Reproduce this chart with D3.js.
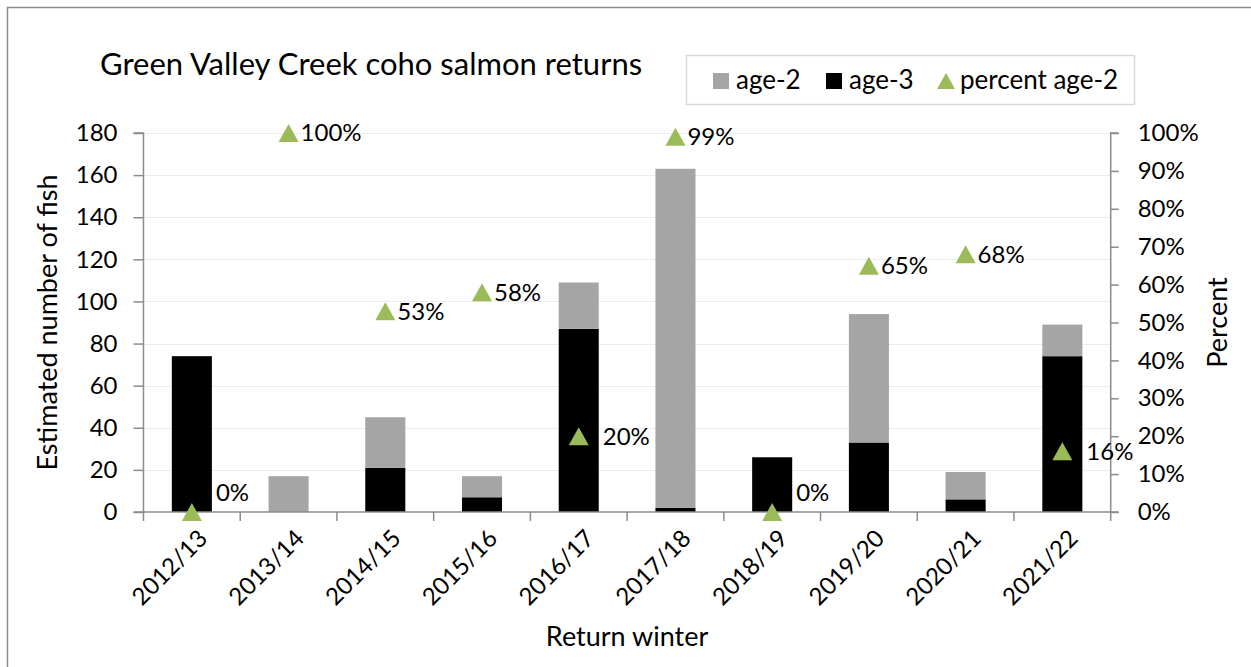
<!DOCTYPE html>
<html>
<head>
<meta charset="utf-8">
<script src="https://cdn.jsdelivr.net/npm/d3@7"></script>
<style>
  html, body { margin: 0; padding: 0; background: #fff; }
  svg { display: block; font-family: Lato, "Open Sans", sans-serif; }
</style>
</head>
<body>
<svg id="chart" width="1251" height="667"></svg>
<script>
const categories = ["2012/13","2013/14","2014/15","2015/16","2016/17","2017/18","2018/19","2019/20","2020/21","2021/22"];
const age2 = [0, 17, 24, 10, 22, 161, 0, 61, 13, 15];
const age3 = [74, 0, 21, 7, 87, 2, 26, 33, 6, 74];
const percentAge2 = [0, 100, 53, 58, 20, 99, 0, 65, 68, 16];
const leftTicks = [0, 20, 40, 60, 80, 100, 120, 140, 160, 180];
const rightTicks = [0, 10, 20, 30, 40, 50, 60, 70, 80, 90, 100];

const svg = d3.select("#chart");
const plot = { left: 143.5, right: 1110.7, top: 133, bottom: 512 };
const axisColor = "#8c8c8c";
const gridColor = "#ececec";
const fsNum = 24;   // numeric text
const fsWord = 27;  // word text

// outer border
svg.append("rect").attr("x", 7.5).attr("y", 7.5).attr("width", 1270).attr("height", 700)
  .attr("fill", "#fff").attr("stroke", "#8c8c8c").attr("stroke-width", 1.5);

const x = d3.scaleBand().domain(categories).range([plot.left, plot.right]).paddingInner(0.586).paddingOuter(0.293);
const xb = d3.scaleBand().domain(categories).range([plot.left, plot.right]);
const y = d3.scaleLinear().domain([0, 180]).range([plot.bottom, plot.top]);
const y2 = d3.scaleLinear().domain([0, 100]).range([plot.bottom, plot.top]);

// gridlines
svg.append("g").selectAll("line").data(leftTicks.filter(d => d > 0)).join("line")
  .attr("x1", plot.left).attr("x2", plot.right)
  .attr("y1", d => Math.round(y(d)) + 0.5).attr("y2", d => Math.round(y(d)) + 0.5)
  .attr("stroke", gridColor).attr("stroke-width", 1.2);

// stacked bars
const rows = categories.map((c, i) => ({ cat: c, age3: age3[i], age2: age2[i] }));
const stack = d3.stack().keys(["age3", "age2"])(rows);
const colors = { age3: "#000000", age2: "#a5a5a5" };
svg.append("g").selectAll("g").data(stack).join("g")
  .attr("fill", d => colors[d.key])
  .selectAll("rect").data(d => d).join("rect")
  .attr("x", d => x(d.data.cat)).attr("width", x.bandwidth())
  .attr("y", d => y(d[1])).attr("height", d => y(d[0]) - y(d[1]));

// axes
const leftAxis = d3.axisLeft(y).tickValues(leftTicks).tickSize(10).tickPadding(16);
const gl = svg.append("g").attr("transform", `translate(${plot.left},0)`).call(leftAxis);
const rightAxis = d3.axisRight(y2).tickValues(rightTicks).tickSize(8).tickFormat(d => d + "%").tickPadding(19);
const gr = svg.append("g").attr("transform", `translate(${plot.right},0)`).call(rightAxis);
const bottomAxis = d3.axisBottom(xb).tickSize(0).tickPadding(0);
const gb = svg.append("g").attr("transform", `translate(0,${plot.bottom})`).call(bottomAxis);
// category boundary ticks
svg.append("g").selectAll("line").data(categories.concat(["__end"])).join("line")
  .attr("x1", (d, i) => i < categories.length ? xb(d) : plot.right)
  .attr("x2", (d, i) => i < categories.length ? xb(d) : plot.right)
  .attr("y1", plot.bottom).attr("y2", plot.bottom + 9)
  .attr("stroke", axisColor).attr("stroke-width", 1.5);

[gl, gr, gb].forEach(g => {
  g.selectAll(".domain").attr("stroke", axisColor).attr("stroke-width", 1.5);
  g.selectAll(".tick line").attr("stroke", axisColor).attr("stroke-width", 1.5);
  g.selectAll("text").attr("fill", "#000").style("font-size", fsNum + "px").style("font-family", "Lato, sans-serif");
});
gl.select(".domain").attr("d", `M-10,${plot.top}H0V${plot.bottom}H-10`);
gr.select(".domain").attr("d", `M8,${plot.top}H0V${plot.bottom}H8`);
gb.select(".domain").attr("d", `M${plot.left},0H${plot.right}`);
gb.selectAll(".tick text")
  .attr("text-anchor", "end")
  .attr("dy", "0.35em")
  .attr("transform", "translate(11,22) rotate(-45)");

// triangles
const cx = i => xb(categories[i]) + xb.bandwidth() / 2;
svg.append("g").selectAll("path").data(percentAge2).join("path")
  .attr("d", "M0,-9L10,9L-10,9Z")
  .attr("transform", (d, i) => `translate(${cx(i)},${y2(d)})`)
  .attr("fill", "#9bbb59");

// labels: placed right of marker; pushed clear of a bar when the label would sit on it
const labelY = d => Math.min(y2(d), plot.bottom - 19);
svg.append("g").selectAll("text").data(percentAge2).join("text")
  .attr("x", (d, i) => {
    const top = y(age2[i] + age3[i]);
    const onBar = (age2[i] + age3[i]) > 0 && labelY(d) + 10 > top;
    return cx(i) + (onBar ? x.bandwidth() / 2 + 4 : 12);
  })
  .attr("y", d => labelY(d))
  .attr("dy", "0.35em")
  .style("font-size", fsNum + "px")
  .attr("fill", "#000")
  .text(d => d + "%");

// title
svg.append("text").attr("x", 100).attr("y", 75)
  .style("font-size", "31px").attr("fill", "#000")
  .text("Green Valley Creek coho salmon returns");

// axis titles
svg.append("text")
  .attr("transform", `translate(57,${(plot.top + plot.bottom) / 2}) rotate(-90)`)
  .attr("text-anchor", "middle").style("font-size", fsWord + "px").attr("fill", "#000")
  .text("Estimated number of fish");
svg.append("text")
  .attr("transform", `translate(1227,${(plot.top + plot.bottom) / 2}) rotate(-90)`)
  .attr("text-anchor", "middle").style("font-size", fsWord + "px").attr("fill", "#000")
  .text("Percent");
svg.append("text")
  .attr("x", (plot.left + plot.right) / 2).attr("y", 646)
  .attr("text-anchor", "middle").style("font-size", fsWord + "px").attr("fill", "#000")
  .text("Return winter");

// legend
const lg = svg.append("g");
lg.append("rect").attr("x", 686.5).attr("y", 55.5).attr("width", 448).attr("height", 49)
  .attr("fill", "#fff").attr("stroke", "#d9d9d9").attr("stroke-width", 1.5);
const legendItems = [
  { label: "age-2", type: "rect", color: "#a5a5a5", x: 713 },
  { label: "age-3", type: "rect", color: "#000000", x: 826 },
  { label: "percent age-2", type: "tri", color: "#9bbb59", x: 937 }
];
legendItems.forEach(it => {
  if (it.type === "rect") {
    lg.append("rect").attr("x", it.x).attr("y", 73).attr("width", 16).attr("height", 16).attr("fill", it.color);
  } else {
    lg.append("path").attr("d", "M0,-8L9,8L-9,8Z").attr("transform", `translate(${it.x + 9},81)`).attr("fill", it.color);
  }
  lg.append("text").attr("x", it.x + 23).attr("y", 80).attr("dy", "0.35em")
    .style("font-size", "26px").attr("fill", "#000").text(it.label);
});
</script>
</body>
</html>
